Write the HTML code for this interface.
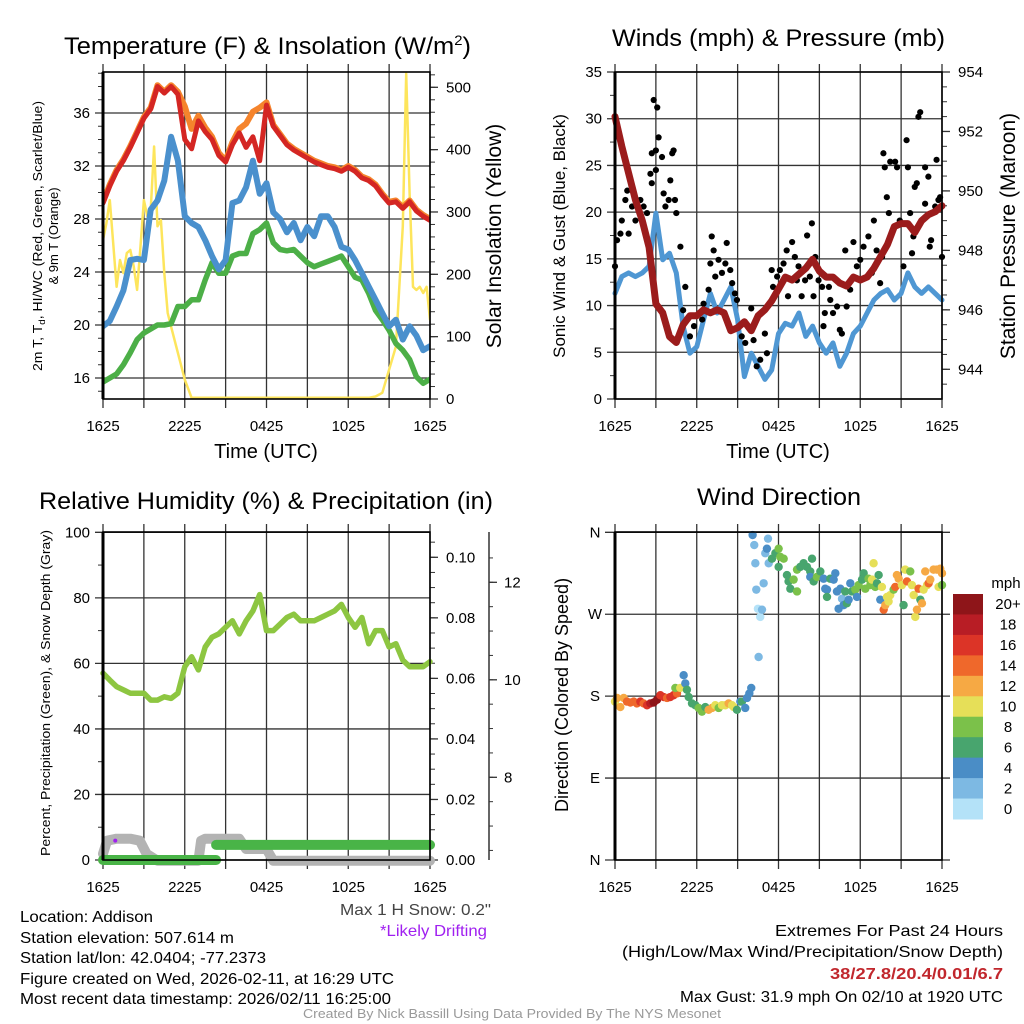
<!DOCTYPE html>
<html><head><meta charset="utf-8">
<style>
html,body{margin:0;padding:0;background:#fff;}
svg{display:block;font-family:"Liberation Sans",Arial,sans-serif;}
</style></head>
<body>
<svg id="fig" xmlns="http://www.w3.org/2000/svg" width="1024" height="1024" viewBox="0 0 1024 1024">
<rect x="0" y="0" width="1024" height="1024" fill="#fff"/>
<!-- titles -->
<text x="64" y="54" font-size="24" textLength="407" lengthAdjust="spacingAndGlyphs">Temperature (F) &amp; Insolation (W/m<tspan font-size="14" dy="-9">2</tspan><tspan dy="9">)</tspan></text>
<text x="612" y="46" font-size="24" textLength="333" lengthAdjust="spacingAndGlyphs">Winds (mph) &amp; Pressure (mb)</text>
<text x="39" y="509" font-size="24" textLength="454" lengthAdjust="spacingAndGlyphs">Relative Humidity (%) &amp; Precipitation (in)</text>
<text x="697" y="505" font-size="24" textLength="164" lengthAdjust="spacingAndGlyphs">Wind Direction</text>
<!-- axis titles -->
<text x="266" y="458" font-size="20" text-anchor="middle">Time (UTC)</text>
<text x="778" y="458" font-size="20" text-anchor="middle">Time (UTC)</text>
<text transform="translate(42,236) rotate(-90)" font-size="13" text-anchor="middle" textLength="270" lengthAdjust="spacingAndGlyphs">2m T, T<tspan font-size="9" dy="3">d</tspan><tspan dy="-3">, HI/WC (Red, Green, Scarlet/Blue)</tspan></text>
<text transform="translate(58,236) rotate(-90)" font-size="13" text-anchor="middle">&amp; 9m T (Orange)</text>
<text transform="translate(501,236) rotate(-90)" font-size="21" text-anchor="middle">Solar Insolation (Yellow)</text>
<text transform="translate(565,236) rotate(-90)" font-size="17" text-anchor="middle">Sonic Wind &amp; Gust (Blue, Black)</text>
<text transform="translate(1015,236) rotate(-90)" font-size="21" text-anchor="middle">Station Pressure (Maroon)</text>
<text transform="translate(50,693) rotate(-90)" font-size="13" text-anchor="middle" textLength="326" lengthAdjust="spacingAndGlyphs">Percent, Precipitation (Green), &amp; Snow Depth (Gray)</text>
<text transform="translate(568,695) rotate(-90)" font-size="18" text-anchor="middle">Direction (Colored By Speed)</text>
<!-- notes -->
<text x="340" y="915" font-size="16" fill="#444" textLength="151" lengthAdjust="spacingAndGlyphs">Max 1 H Snow: 0.2"</text>
<text x="380" y="936" font-size="16" fill="#a020f0" textLength="107" lengthAdjust="spacingAndGlyphs">*Likely Drifting</text>
<g font-size="16">
<text x="20" y="922" textLength="133" lengthAdjust="spacingAndGlyphs">Location: Addison</text>
<text x="20" y="943" textLength="214" lengthAdjust="spacingAndGlyphs">Station elevation: 507.614 m</text>
<text x="20" y="963" textLength="246" lengthAdjust="spacingAndGlyphs">Station lat/lon: 42.0404; -77.2373</text>
<text x="20" y="984" textLength="374" lengthAdjust="spacingAndGlyphs">Figure created on Wed, 2026-02-11, at 16:29 UTC</text>
<text x="20" y="1004" textLength="371" lengthAdjust="spacingAndGlyphs">Most recent data timestamp: 2026/02/11 16:25:00</text>
</g>
<g font-size="16">
<text x="775" y="936" textLength="228" lengthAdjust="spacingAndGlyphs">Extremes For Past 24 Hours</text>
<text x="622" y="957" textLength="381" lengthAdjust="spacingAndGlyphs">(High/Low/Max Wind/Precipitation/Snow Depth)</text>
<text x="830" y="979" font-weight="bold" fill="#c1272d" textLength="173" lengthAdjust="spacingAndGlyphs">38/27.8/20.4/0.01/6.7</text>
<text x="680" y="1002" textLength="323" lengthAdjust="spacingAndGlyphs">Max Gust: 31.9 mph On 02/10 at 1920 UTC</text>
</g>
<text x="303" y="1018" font-size="13" fill="#999" textLength="418" lengthAdjust="spacingAndGlyphs">Created By Nick Bassill Using Data Provided By The NYS Mesonet</text>
</svg>
<script>
// ---------- data ----------
const hours = [0,0.5,1,1.5,2,2.5,3,3.5,4,4.5,5,5.5,6,6.5,7,7.5,8,8.5,9,9.5,10,10.5,11,11.5,12,12.5,13,13.5,14,14.5,15,15.5,16,16.5,17,17.5,18,18.5,19,19.5,20,20.5,21,21.5,22,22.5,23,23.5,24];
const timeTickLabels = ["1625","2225","0425","1025","1625"];
const tempRed = [29.2,30.5,31.6,32.4,33.4,34.5,35.6,36.3,38.0,37.5,38.0,37.4,34.0,33.3,35.4,34.6,34.0,32.8,32.3,33.6,34.5,33.4,34.2,32.4,36.6,35.0,34.3,33.6,33.2,32.9,32.6,32.3,32.1,31.9,31.8,31.6,31.9,31.6,31.1,30.9,30.5,29.8,29.2,29.3,28.8,29.3,28.6,28.2,27.9];
const tempOrange = [29.3,30.6,31.7,32.5,33.5,34.6,35.7,36.4,38.1,37.6,38.1,37.6,36.5,34.8,35.8,34.9,34.2,33.0,32.4,33.8,34.8,35.2,36.1,36.4,36.8,35.1,34.4,33.7,33.3,33.0,32.7,32.4,32.2,32.0,31.9,31.7,32.0,31.7,31.2,31.0,30.6,29.9,29.3,29.4,28.9,29.4,28.7,28.3,28.0];
const windChill = [19.9,20.3,21.4,22.6,24.9,25.0,24.9,28.7,29.4,30.9,34.2,32.4,28.2,27.7,27.4,26.4,25.2,24.2,24.9,29.2,29.4,30.4,32.4,29.9,30.7,28.5,28.0,27.0,27.7,26.4,27.4,26.7,28.2,28.2,27.4,25.9,25.7,24.9,23.9,22.9,21.9,20.9,19.9,20.4,18.9,19.9,19.2,18.1,18.4];
const dewPoint = [15.7,16.0,16.3,17.0,17.9,18.9,19.4,19.7,20.0,20.0,20.1,21.4,21.4,21.9,21.9,23.4,24.7,23.9,23.9,25.2,25.4,25.4,26.9,27.2,27.7,26.2,25.7,25.6,25.7,25.2,24.7,24.4,24.6,24.8,25.0,25.2,24.4,23.6,23.4,22.4,21.1,20.4,19.6,18.6,18.1,17.4,16.1,15.6,15.9];
const solarHours = [0,0.25,0.5,0.75,1,1.25,1.5,1.75,2,2.25,2.5,2.75,3,3.25,3.5,3.75,4,4.25,4.5,4.75,5,5.5,6,6.5,19.5,20,20.5,21,21.5,22,22.25,22.5,22.75,23,23.25,23.5,23.75,24];
const solarValues = [255,282,319,250,180,223,202,234,239,213,175,245,319,293,303,405,277,287,202,138,116,74,31,2,2,4,10,47,84,277,522,330,180,175,180,170,180,127];
const tempTicks = [16,20,24,28,32,36];
const solarTicks = [0,100,200,300,400,500];

const windSpeed = [11.3,13.1,13.5,13.1,13.5,14.2,19.9,14.9,15.6,13.5,7.8,4.9,5.6,8.5,11.3,9.2,10.6,12.0,8.5,2.4,4.9,3.5,2.1,3.1,7.0,8.1,7.8,9.2,6.7,7.8,6.0,4.9,6.0,3.5,4.9,7.0,7.8,9.2,10.6,11.3,11.7,10.6,11.3,13.5,12.0,11.3,12.0,11.3,10.6];
const pressure = [952.5,951.5,950.6,949.7,949.0,948.1,946.2,945.9,945.1,944.9,945.5,945.8,945.8,946.0,945.9,946.0,945.9,945.3,945.4,945.6,945.3,945.8,946.0,946.3,946.7,947.1,947.0,947.2,947.4,947.7,947.3,947.1,947.1,946.9,946.8,947.1,947.0,947.1,947.4,947.8,948.2,948.8,948.9,948.9,948.6,949.0,949.2,949.3,949.5];
const gustHours = [0,0.15,0.4,0.5,0.76,0.9,1,1.25,1.5,1.86,2.1,2.35,2.6,2.7,2.84,3.1,2.7,3,3.2,3,3.45,3.57,3.7,3.94,4.06,4.2,4.3,4.4,4.5,4.8,5.16,5,5.5,5.8,6.4,6.5,6.87,7,7.1,7.24,7.36,7.6,7.85,8.1,8.2,8.46,8.6,8.8,8.95,9.3,9.56,10,10.17,10.4,10.66,11,11.15,11.5,11.6,11.9,12.1,12.37,12.6,12.7,13,13.2,13.35,13.47,13.7,13.95,14.1,14.3,14.45,14.57,14.7,14.94,15.2,15.3,15.4,15.7,15.8,16,16.3,16.5,16.65,16.9,17,17.26,17.5,17.75,18,18.24,18.6,18.85,19,19.2,19.46,19.6,19.7,19.8,19.95,20.1,20.2,20.56,20.7,20.9,21.17,21.4,21.5,21.66,21.8,21.9,22,22.15,22.27,22.4,22.5,22.76,22.76,23,23.1,23.2,23.5,23.6,23.74,23.86,24];
const gustValues = [14.2,17,17.7,19.1,21.3,22.3,17.7,20.6,19.1,21.3,20.6,19.9,24.1,23.1,32,31.2,26.3,26.6,28,24.5,25.9,22,20.6,21.3,23.4,26.3,26.6,21.3,19.9,16.3,12,9.5,6.7,7.8,8.5,10.2,11.7,14.5,17.4,15.9,13.1,14.9,13.5,14.5,16.7,13.8,12.4,11.3,10.6,6.7,6,9.7,6.3,3.5,4.2,7,4.9,13.8,12,13.1,13.8,14.5,15.9,11,16.8,15.2,12.7,14.2,11,12.7,17.5,13.1,18.8,11,15.2,12.7,12,7.8,9.2,12,10.6,9.2,9.9,7.4,7,15.9,9.9,11.7,16.8,14.2,14.9,16.3,17.4,13.5,19.1,15.9,12.4,15.2,26.3,24.8,21.6,19.9,25.4,25.4,24.8,19.1,14.2,27.7,24.8,19.9,15.6,17.4,22.7,23.1,30.2,30.7,19.1,24.8,20.9,23.8,16.3,17,20.6,25.6,21.3,21.6,15.2];
const windTicks = [0,5,10,15,20,25,30,35];
const pressureTicks = [944,946,948,950,952,954];

const humidity = [57,54.9,52.9,51.9,50.9,50.9,50.9,48.8,48.8,49.8,49.3,50.9,59,62,58,65,68,69,71,73,69,73,76,81,70,70,72,74,75,73,73,73,74,75,76,78,74,71,74,66,70,70,65,66,61,59,59,59,60.5];
const precipHours = [0,8.3,8.3,24];
const precipValues = [0,0,0.005,0.005];
const snowHours = [0,0.3,1,2,2.7,3.2,4,5,7,7.2,7.5,10,10.5,12,12.5,24];
const snowDepth = [6.43,6.7,6.74,6.74,6.7,6.43,6.29,6.29,6.29,6.7,6.74,6.74,6.53,6.53,6.29,6.29];
const driftHours = [0.9];
const driftDepth = [6.7];
const humidityTicks = [0,20,40,60,80,100];
const precipTicks = ["0.00","0.02","0.04","0.06","0.08","0.10"];
const snowTicks = [8,10,12];

const dirHours = [0,0.15,0.39,0.64,0.88,1.13,1.37,1.61,1.86,2.1,2.35,2.59,2.84,3.08,3.33,3.57,3.82,4.06,4.3,4.55,4.43,4.79,5.04,5.16,5.28,5.41,5.65,5.9,6.14,6.38,6.63,6.87,7.12,7.36,7.61,7.85,8.1,8.34,8.59,8.71,8.95,9.2,9.32,9.56,9.69,9.86,10.0,10.1,10.22,10.3,10.37,10.54,10.49,10.66,10.79,10.91,11.03,11.15,11.23,11.28,11.52,11.77,12.01,12.13,12.38,12.01,12.62,12.74,12.87,13.11,13.36,13.36,13.6,13.84,14.09,14.33,14.46,14.33,14.58,14.82,15.07,15.31,15.43,15.56,15.56,15.8,16.05,16.17,16.29,16.41,16.54,16.66,16.78,16.9,17.02,17.15,17.27,17.39,17.64,17.76,17.88,18.13,18.25,18.37,18.61,18.74,18.86,18.98,19.1,19.23,19.35,19.47,19.59,19.72,19.84,19.96,20.08,20.2,20.45,20.57,20.69,20.82,21.06,21.18,21.3,21.43,21.67,21.79,21.92,22.04,22.16,22.28,22.41,22.53,22.65,22.77,22.9,23.02,23.14,23.38,23.63,23.75,23.87,24,24];
const dirDegrees = [174,178,168,178,174,173,174,172,174,172,170,172,173,176,181,179,178,179,181,183,189,189,203,194,187,179,172,170,167,163,168,165,167,170,167,170,170,172,170,168,165,174,174,167,178,183,189,357,346,326,297,223,276,267,275,304,337,342,353,326,331,337,342,333,331,322,313,306,298,308,319,295,322,326,322,317,331,311,306,311,317,309,298,297,289,309,308,315,295,276,298,287,280,295,282,286,304,295,297,289,302,308,315,298,309,302,308,326,300,304,313,286,300,275,280,289,284,291,297,300,313,309,302,280,319,306,317,302,291,267,275,298,286,282,297,317,302,304,308,319,319,300,320,302,315];
const dirSpeed = [10,12,12,12,14,14,14,14,16,14,16,18,20,20,16,16,14,16,16,14,8,10,4,4,6,6,6,6,8,8,6,12,12,10,8,10,10,12,10,10,6,4,6,4,4,4,4,4,2,2,2,2,0,0,2,2,2,4,2,2,6,6,8,8,8,6,6,6,6,8,8,8,6,6,6,6,6,4,6,8,6,4,4,4,6,6,4,4,4,4,4,2,4,6,6,4,4,6,8,4,8,6,6,8,8,8,10,10,8,6,6,4,10,14,12,10,10,10,8,14,12,12,10,6,10,14,8,10,10,10,12,14,6,12,10,12,10,14,12,12,12,10,12,8,12];
const dirTickLabels = ["N","E","S","W","N"];
const dirTickDegrees = [0,90,180,270,360];
const speedBins = ["0","2","4","6","8","10","12","14","16","18","20+"];
const speedColors = ["#b4e2f8","#7db9e3","#4a8dc6","#48a56e","#7bc14a","#e6df58","#f6a944","#ef682b","#dc3427","#b81d25","#8e1519"];

// ---------- helpers ----------
const NS = "http://www.w3.org/2000/svg";
const svg = document.getElementById("fig");
function mk(tag, attrs, parent){
  const e = document.createElementNS(NS, tag);
  for (const k in attrs) e.setAttribute(k, attrs[k]);
  (parent || svg).appendChild(e);
  return e;
}
function lin(d0,d1,r0,r1){ return v => r0 + (v-d0)*(r1-r0)/(d1-d0); }
function pathD(xs, ys, sx, sy){
  let d = "";
  for (let i=0;i<xs.length;i++) d += (i?"L":"M") + sx(xs[i]).toFixed(1) + "," + sy(ys[i]).toFixed(1);
  return d;
}
const X0 = 103, X1 = 430;
function panelFrame(g, ox, top, bottom, name){
  const sx = lin(0,24,X0+ox,X1+ox);
  for (let h=0; h<=24; h+=3){
    const x = sx(h);
    const gl = mk("line",{x1:x,y1:top-8,x2:x,y2:bottom+9,stroke:"#333","stroke-width":1.3},g);
    
    
  }
  for (let i=0;i<timeTickLabels.length;i++){
    const t = mk("text",{x:sx(i*6),y:bottom+32,"font-size":15,"text-anchor":"middle"},g);
    t.textContent = timeTickLabels[i];
    
    
  }
  return sx;
}
function hGrid(g, ox, y, name){
  const l = mk("line",{x1:X0+ox-8,y1:y,x2:X1+ox,y2:y,stroke:"#333","stroke-width":1.3},g);
  
  
}
function border(g, ox, top, bottom){
  const r = mk("rect",{x:X0+ox,y:top,width:X1-X0,height:bottom-top,fill:"none",stroke:"#000","stroke-width":1.6},g);
  
  
  const l = mk("line",{x1:X0+ox,y1:top,x2:X0+ox,y2:bottom,stroke:"#000","stroke-width":3},g);
  
  
}
function tickLabel(g, x, y, txt, anchor, name){
  const t = mk("text",{x:x,y:y+5,"font-size":15,"text-anchor":anchor},g);
  t.textContent = txt;
  
  
}
function minor(g, x, y, dir, len){
  const l = mk("line",{x1:x,y1:y,x2:x+dir*len,y2:y,stroke:"#333","stroke-width":1},g);
  
  
}

// ---------- Panel 1: temperature ----------
(function(){
  const g = mk("g",{});
  
  
  const top=72, bot=399;
  const sx = panelFrame(g,0,top,bot,'temperature');
  const sy = lin(16,36,378,113);
  const sy2 = lin(0,500,399,87.3);
  for (let v=15; v<=39; v++) if (sy(v)>top && sy(v)<bot) minor(g,X0,sy(v),-1,5);
  for (let v=20; v<=520; v+=20) if (sy2(v)>top) minor(g,X1,sy2(v),1,5);
  tempTicks.forEach(v=>{ hGrid(g,0,sy(v),'temperature-gridline'); tickLabel(g,X0-13,sy(v),String(v),"end",'temperature-tick-label'); });
  solarTicks.forEach(v=>{
    const l = mk("line",{x1:X1,y1:sy2(v),x2:X1+8,y2:sy2(v),stroke:"#333","stroke-width":1.3},g);
    
    
    tickLabel(g,X1+16,sy2(v),String(v),"start",'solar-tick-label');
  });
  const cp = mk("clipPath",{id:"clip1"},g);
  mk("rect",{x:X0,y:top,width:X1-X0,height:bot-top},cp);
  const lines = mk("g",{"clip-path":"url(#clip1)",fill:"none","stroke-linejoin":"round","stroke-linecap":"round"},g);
  const so = mk("path",{d:pathD(solarHours,solarValues,sx,sy2),stroke:"#fde55c","stroke-width":2.5},lines);
  
  
  const dp = mk("path",{d:pathD(hours,dewPoint,sx,sy),stroke:"#4caf47","stroke-width":5.5},lines);
  
  
  const wc = mk("path",{d:pathD(hours,windChill,sx,sy),stroke:"#4a90cd","stroke-width":6},lines);
  
  
  const t9 = mk("path",{d:pathD(hours,tempOrange,sx,sy),stroke:"#f5842c","stroke-width":6},lines);
  
  
  const t2 = mk("path",{d:pathD(hours,tempRed,sx,sy),stroke:"#d42623","stroke-width":5},lines);
  
  
  border(g,0,top,bot);
})();

// ---------- Panel 2: winds ----------
(function(){
  const ox = 512;
  const g = mk("g",{});
  
  
  const top=72, bot=399;
  const sx = panelFrame(g,ox,top,bot,'winds');
  const sy = lin(0,35,399,72);
  const sy2 = lin(944,954,369.3,72);
  for (let v=2.5; v<35; v+=5) minor(g,X0+ox,sy(v),-1,5);
  for (let v=943.5; v<=954; v+=0.5) if (sy2(v)<bot) minor(g,X1+ox,sy2(v),1,5);
  windTicks.forEach(v=>{ hGrid(g,ox,sy(v),'wind-gridline'); tickLabel(g,X0+ox-13,sy(v),String(v),"end",'wind-tick-label'); });
  pressureTicks.forEach(v=>{
    const l = mk("line",{x1:X1+ox,y1:sy2(v),x2:X1+ox+8,y2:sy2(v),stroke:"#333","stroke-width":1.3},g);
    
    
    tickLabel(g,X1+ox+16,sy2(v),String(v),"start",'pressure-tick-label');
  });
  const lines = mk("g",{fill:"none","stroke-linejoin":"round","stroke-linecap":"round"},g);
  const ws = mk("path",{d:pathD(hours,windSpeed,sx,sy),stroke:"#4f97d3","stroke-width":5},lines);
  
  
  for (let i=0;i<gustHours.length;i++){
    const c = mk("circle",{cx:sx(gustHours[i]),cy:sy(gustValues[i]),r:3.1,fill:"#000"},g);
    
    
  }
  const pr = mk("path",{d:pathD(hours,pressure,sx,sy2),stroke:"#9b1c1c","stroke-width":7,fill:"none","stroke-linejoin":"round","stroke-linecap":"round"},g);
  
  
  border(g,ox,top,bot);
})();

// ---------- Panel 3: humidity ----------
(function(){
  const g = mk("g",{});
  
  
  const top=532, bot=860;
  const sx = panelFrame(g,0,top,bot,'humidity');
  const sy = lin(0,100,860,532.3);
  const syP = lin(0,0.1,860,557.3);
  const syS = lin(8,12,777.3,582.3);
  for (let v=10; v<100; v+=20) minor(g,X0,sy(v),-1,5);
  humidityTicks.forEach(v=>{ hGrid(g,0,sy(v),'humidity-gridline'); tickLabel(g,X0-13,sy(v),String(v),"end",'humidity-tick-label'); });
  for (let v=0.005; v<0.11; v+=0.005) minor(g,X1,syP(v),1,5);
  precipTicks.forEach(v=>{
    const y = syP(parseFloat(v));
    const l = mk("line",{x1:X1,y1:y,x2:X1+8,y2:y,stroke:"#333","stroke-width":1.3},g);
    
    
    tickLabel(g,X1+16,y,v,"start",'precip-tick-label');
  });
  const ax = mk("line",{x1:489,y1:532,x2:489,y2:860,stroke:"#333","stroke-width":1.5},g);
  
  
  for (let v=6.5; v<13; v+=0.5) if (syS(v)>532 && syS(v)<860) minor(g,489,syS(v),1,4);
  snowTicks.forEach(v=>{
    const l = mk("line",{x1:489,y1:syS(v),x2:497,y2:syS(v),stroke:"#333","stroke-width":1.3},g);
    
    
    tickLabel(g,504,syS(v),String(v),"start",'snow-depth-tick-label');
  });
  const sn = mk("path",{d:pathD(snowHours,snowDepth,sx,syS),stroke:"#b3b3b3","stroke-width":10,fill:"none","stroke-linejoin":"round","stroke-linecap":"round"},g);
  
  
  for (let i=0;i<driftHours.length;i++){
    const d = mk("circle",{cx:sx(driftHours[i]),cy:syS(driftDepth[i]),r:2,fill:"#a020f0"},g);
    
    
  }
  for (let i=0;i<precipHours.length-1;i++){
    if (precipHours[i]===precipHours[i+1]) continue;
    const p = mk("line",{x1:sx(precipHours[i]),y1:syP(precipValues[i]),x2:sx(precipHours[i+1]),y2:syP(precipValues[i+1]),stroke:"#49b447","stroke-width":10,"stroke-linecap":"round"},g);
    
    
  }
  const rh = mk("path",{d:pathD(hours,humidity,sx,sy),stroke:"#8dc641","stroke-width":5.5,fill:"none","stroke-linejoin":"round","stroke-linecap":"round"},g);
  
  
  border(g,0,top,bot);
})();

// ---------- Panel 4: wind direction ----------
(function(){
  const ox = 512;
  const g = mk("g",{});
  
  
  const top=532, bot=860;
  const sx = panelFrame(g,ox,top,bot,'direction');
  const sy = lin(0,360,860,532.3);
  for (let i=0;i<dirTickDegrees.length;i++){
    const y = sy(dirTickDegrees[i]);
    const l = mk("line",{x1:X0+ox-10,y1:y,x2:X1+ox+8,y2:y,stroke:"#333","stroke-width":1.3},g);
    
    
    tickLabel(g,X0+ox-20,y,dirTickLabels[i],"middle",'direction-tick-label');
  }
  for (let i=0;i<dirHours.length;i++){
    let bin = Math.min(speedBins.length-1, Math.max(0, Math.floor(dirSpeed[i]/2)));
    const c = mk("circle",{cx:sx(dirHours[i]),cy:sy(dirDegrees[i]),r:4.2,fill:speedColors[bin]},g);
    
    
  }
  border(g,ox,top,bot);
  const cb = mk("g",{},g);
  
  
  const cbTop = 594, cbH = 225, n = speedBins.length, bh = cbH/n;
  for (let i=0;i<n;i++){
    const k = n-1-i;
    const r = mk("rect",{x:953,y:cbTop+i*bh,width:30,height:bh+0.5,fill:speedColors[k]},cb);
    
    
    const t = mk("text",{x:1008,y:cbTop+i*bh+bh/2+5,"font-size":15,"text-anchor":"middle"},cb);
    t.textContent = speedBins[k];
    
    
  }
  const u = mk("text",{x:1006,y:588,"font-size":15,"text-anchor":"middle"},cb);
  u.textContent = "mph";
  
  
})();
</script>
</body></html>
